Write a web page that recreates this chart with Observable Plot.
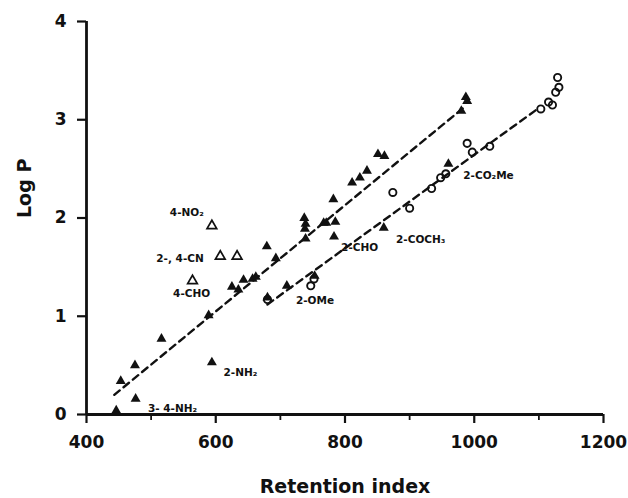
<!DOCTYPE html>
<html>
<head>
<meta charset="utf-8">
<script src="https://cdn.jsdelivr.net/npm/d3@7"></script>
<script src="https://cdn.jsdelivr.net/npm/@observablehq/plot@0.6"></script>
<style>
  html, body { margin: 0; padding: 0; background: #fff; }
  #chart svg { display: block; }
</style>
</head>
<body>
<div id="chart"></div>
<script>
// Filled triangles
const filledX = [446,453,475,476,516,594,589,625,635,643,657,662,679,693,710,680,753,737,739,738,739,767,771,785,783,782,811,823,834,851,861,860,960,980,987,989];
const filledY = [0.04,0.34,0.50,0.16,0.77,0.53,1.01,1.30,1.27,1.37,1.38,1.40,1.71,1.59,1.31,1.19,1.41,2.00,1.94,1.89,1.79,1.95,1.95,1.96,1.81,2.19,2.36,2.41,2.48,2.65,2.63,1.90,2.55,3.09,3.23,3.19];
// Open triangles
const openTriX = [594,607,633,564];
const openTriY = [1.92,1.61,1.61,1.36];
// Open circles
const circleX = [680,747,752,874,900,934,948,956,989,997,1024,1103,1115,1121,1126,1131,1129];
const circleY = [1.17,1.31,1.38,2.26,2.10,2.30,2.41,2.45,2.76,2.67,2.73,3.11,3.18,3.15,3.28,3.33,3.43];
// Dashed regression lines (end points)
const lineAX = [443, 983];
const lineAY = [0.20, 3.12];
const lineBX = [680, 1100];
const lineBY = [1.12, 3.12];
// Annotations
const labelText = ["4-NO₂","2-, 4-CN","4-CHO","2-NH₂","3- 4-NH₂","2-OMe","2-CHO","2-COCH₃","2-CO₂Me"];
const labelX = [529,508,534,612,495,724,794,879,983];
const labelY = [2.05,1.59,1.23,0.43,0.06,1.16,1.70,1.78,2.43];
// Ticks
const xTicks = [400,600,800,1000,1200];
const xMinorTicks = [500,700,900,1100];
const yTicks = [0,1,2,3,4];

const toPts = (xs, ys) => xs.map((x, i) => ({x, y: ys[i]}));
const filled = toPts(filledX, filledY);
const openTri = toPts(openTriX, openTriY);
const circles = toPts(circleX, circleY);
const lineA = toPts(lineAX, lineAY);
const lineB = toPts(lineBX, lineBY);
const labels = labelText.map((t, i) => ({t, x: labelX[i], y: labelY[i]}));

const ink = "#111";
const plain = d => String(d);

const chart = Plot.plot({
  width: 628,
  height: 498,
  marginLeft: 86,
  marginRight: 25,
  marginTop: 21,
  marginBottom: 84,
  style: {fontFamily: "DejaVu Sans", fontWeight: "bold", fontSize: "17px", color: ink, background: "#fff"},
  x: {domain: [400, 1200], axis: null},
  y: {domain: [0, 4], axis: null},
  marks: [
    Plot.axisX({ticks: xTicks, tickFormat: plain, label: null, tickSize: 9, tickPadding: 12, strokeWidth: 2.2, fontSize: 17, fill: ink, stroke: ink}),
    Plot.axisX({ticks: xMinorTicks, label: null, tickSize: 6, text: null, strokeWidth: 1.8, stroke: ink}),
    Plot.axisY({ticks: yTicks, tickFormat: plain, label: null, tickSize: 9, tickPadding: 11, strokeWidth: 2.2, fontSize: 17, fill: ink, stroke: ink}),
    Plot.ruleY([0], {x1: 400, x2: 1200, stroke: ink, strokeWidth: 2.8}),
    Plot.ruleX([400], {y1: 0, y2: 4, stroke: ink, strokeWidth: 2.8}),
    Plot.line(lineA, {x: "x", y: "y", stroke: ink, strokeWidth: 2.4, strokeDasharray: "7,5"}),
    Plot.line(lineB, {x: "x", y: "y", stroke: ink, strokeWidth: 2.4, strokeDasharray: "7,5"}),
    Plot.dot(circles, {x: "x", y: "y", r: 3.6, stroke: ink, strokeWidth: 1.9, fill: "none"}),
    Plot.dot(openTri, {x: "x", y: "y", symbol: "triangle", r: 3.6, stroke: ink, strokeWidth: 1.7, fill: "#fff"}),
    Plot.dot(filled, {x: "x", y: "y", symbol: "triangle", r: 3.7, fill: ink, stroke: "none"}),
    Plot.text(labels, {x: "x", y: "y", text: "t", textAnchor: "start", fontSize: 10.5, fontWeight: "bold", fill: ink}),
    Plot.text(["Retention index"], {frameAnchor: "bottom", dy: 72, lineAnchor: "middle", fontSize: 19, fontWeight: "bold", fill: ink, style: "letter-spacing:1.2px"}),
    Plot.text(["Log P"], {frameAnchor: "left", dx: -62, rotate: -90, lineAnchor: "middle", fontSize: 19, fontWeight: "bold", fill: ink, style: "letter-spacing:2px"})
  ]
});
document.getElementById("chart").appendChild(chart);
</script>
</body>
</html>
